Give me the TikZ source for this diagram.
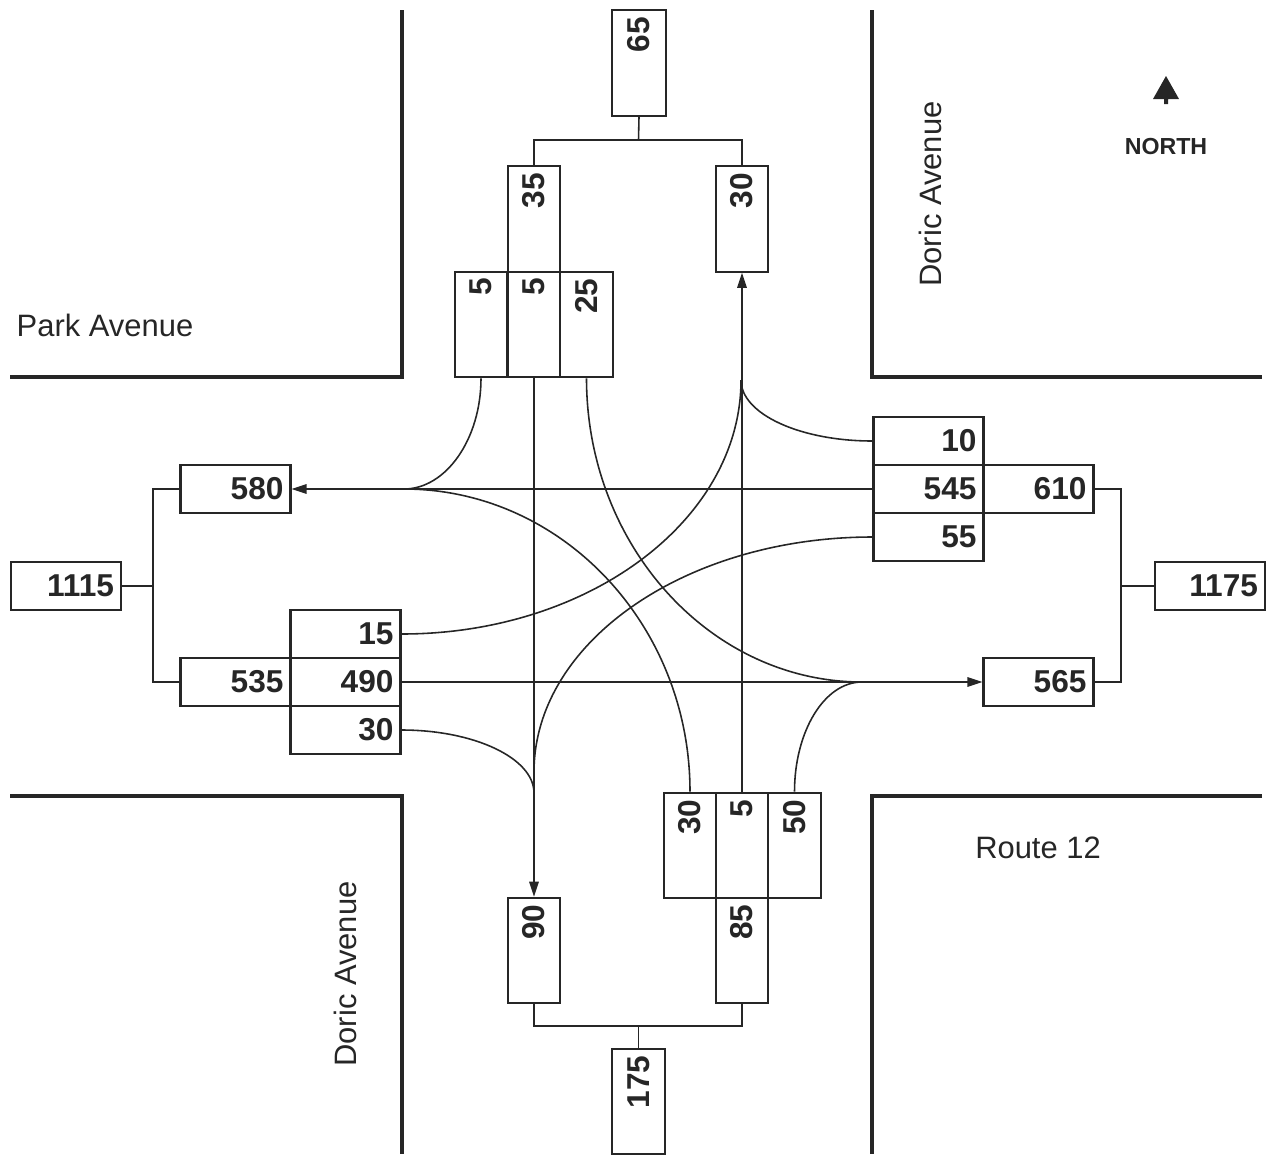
\documentclass[tikz,border=0pt]{standalone}
\usepackage{fontspec}
\setmainfont{Liberation Sans}
\usetikzlibrary{arrows.meta}
\definecolor{ink}{HTML}{262626}
\begin{document}
\begin{tikzpicture}[x=0.1mm,y=-0.1mm,
  street/.style={draw=ink, line width=0.95pt},
  hb/.style={draw=ink, line width=0.6pt, minimum width=11mm, minimum height=4.8mm,
    text width=9.6mm, inner xsep=0.7mm, inner ysep=0pt, align=right,
    font=\bfseries\fontsize{9}{10}\selectfont, text=ink},
  vb/.style={draw=ink, line width=0.6pt, minimum width=5.25mm, minimum height=10.55mm, inner sep=0pt},
  vl/.style={rotate=90, anchor=east, inner sep=0.7mm,
    font=\bfseries\fontsize{9}{10}\selectfont, text=ink},
  conn/.style={draw=ink, line width=0.45pt},
  arr/.style={conn, -{Triangle[length=1.5mm,width=0.95mm]}},
  road/.style={font=\fontsize{8.8}{10}\selectfont, text=ink}
]
\useasboundingbox (0,0) rectangle (1269,1156);

% streets
\draw[street] (402,10) -- (402,377) -- (10,377);
\draw[street] (872,10) -- (872,377) -- (1262,377);
\draw[street] (10,796) -- (402,796) -- (402,1154);
\draw[street] (1262,796) -- (872,796) -- (872,1154);

% road names
\node[road] (park) at (105,325) {Park Avenue};
\node[road, rotate=90] (doricN) at (930,194) {Doric Avenue};
\node[road, rotate=90] (doricS) at (345,974) {Doric Avenue};
\node[road] (route) at (1038,848) {Route 12};
\node[font=\bfseries\fontsize{6.6}{8}\selectfont, text=ink] (north) at (1166,147) {NORTH};
\fill[ink] (1166,76) -- (1179,99) -- (1168,99) -- (1168,104) -- (1164,104) -- (1164,99) -- (1153,99) -- cycle;

% north approach
\node[vb, minimum width=5.35mm, label={[vl]north:65}] (n65) at (639,63) {};
\node[vb, label={[vl]north:35}] (n35) at (534,219) {};
\node[vb, label={[vl]north:30}] (n30) at (742,219) {};
\node[vb, label={[vl]north:5}] (nSL) at (481,324.5) {};
\node[vb, label={[vl]north:5}] (nST) at (534,324.5) {};
\node[vb, label={[vl]north:25}] (nSR) at (586.5,324.5) {};

% south approach
\node[vb, label={[vl]north:30}] (nNL) at (690,845.5) {};
\node[vb, label={[vl]north:5}] (nNT) at (742,845.5) {};
\node[vb, label={[vl]north:50}] (nNR) at (794.5,845.5) {};
\node[vb, label={[vl]north:90}] (n90) at (534,950.5) {};
\node[vb, label={[vl]north:85}] (n85) at (742,950.5) {};
\node[vb, minimum width=5.35mm, label={[vl]north:175}] (n175) at (638.5,1101.5) {};

% west approach
\node[hb] (n580) at (235.5,489) {580};
\node[hb] (n1115) at (66,586) {1115};
\node[hb] (n535) at (235.5,682) {535};
\node[hb] (nEL) at (345.5,634) {15};
\node[hb] (nET) at (345.5,682) {490};
\node[hb] (nER) at (345.5,730) {30};

% east approach
\node[hb] (nWR) at (928.5,441) {10};
\node[hb] (nWT) at (928.5,489) {545};
\node[hb] (nWL) at (928.5,537) {55};
\node[hb] (n610) at (1038.5,489) {610};
\node[hb] (n565) at (1038.5,682) {565};
\node[hb] (n1175) at (1210,586) {1175};

% summing connectors
\coordinate (tj) at (638.5,140);
\draw[conn] (n65.south) -- (tj);
\draw[conn] (n35.north) |- (tj) -| (n30.north);
\coordinate (bj) at (638.5,1026);
\draw[conn] (n175.north) -- (bj);
\draw[conn] (n90.south) |- (bj) -| (n85.south);
\coordinate (wj) at (153,586);
\draw[conn] (n1115.east) -- (wj);
\draw[conn] (n580.west) -| (wj) |- (n535.west);
\coordinate (ej) at (1121,586);
\draw[conn] (n1175.west) -- (ej);
\draw[conn] (n610.east) -| (ej) |- (n565.east);

% merge points
\coordinate (mW) at (404,489);
\coordinate (mE) at (862,682);
\coordinate (mN) at (741,380);
\coordinate (mS1) at (534,772);
\coordinate (mS2) at (534,793);

% through movements
\draw[arr] (nST.south) -- (n90.north);
\draw[arr] (nNT.north) -- (n30.south);
\draw[arr] (nWT.west) -- (n580.east);
\draw[arr] (nET.east) -- (n565.west);

% turning movements
\draw[conn] (nSL.south) .. controls (481,439) and (446,489) .. (mW);
\draw[conn] (nNL.north) .. controls (690,625) and (562,489) .. (mW);
\draw[conn] (nSR.south) .. controls (586.5,545) and (710,682) .. (mE);
\draw[conn] (nNR.north) .. controls (794.5,732) and (824,682) .. (mE);
\draw[conn] (nWR.west) .. controls (800,441) and (741,414) .. (mN);
\draw[conn] (nEL.east) .. controls (589,634) and (741,520) .. (mN);
\draw[conn] (nWL.west) .. controls (686,537) and (534,642) .. (mS1);
\draw[conn] (nER.east) .. controls (474,730) and (534,758) .. (mS2);
\end{tikzpicture}
\end{document}
